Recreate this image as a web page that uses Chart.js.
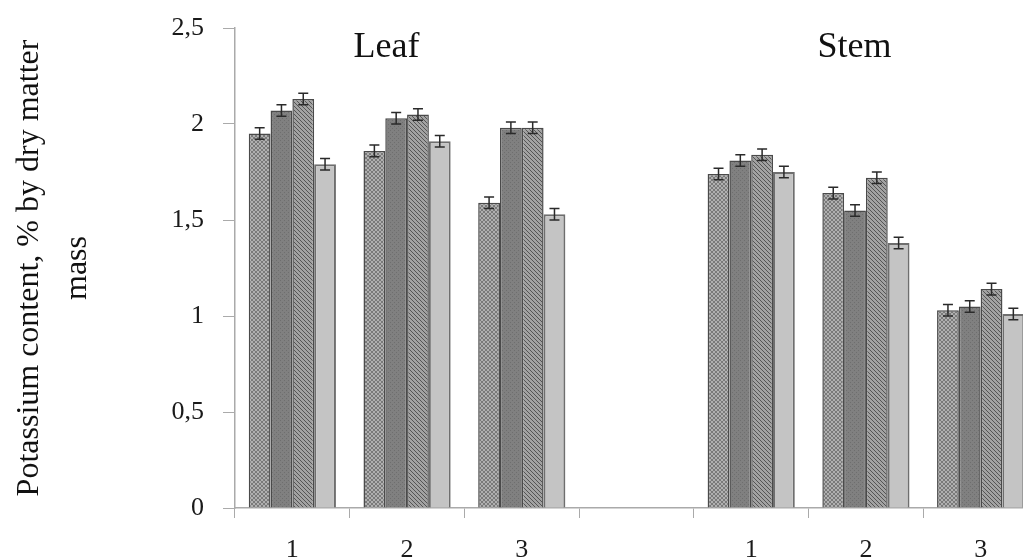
<!DOCTYPE html>
<html>
<head>
<meta charset="utf-8">
<script src="https://cdn.jsdelivr.net/npm/chart.js@4.4.1/dist/chart.umd.min.js"></script>
<style>
  html, body { margin: 0; padding: 0; background: #fff; overflow: hidden; }
  #wrap { width: 1040px; height: 558px; }
</style>
</head>
<body>
<div id="wrap"><canvas id="chartPotassium"></canvas></div>
<script>
/* ===================================
   Potassium content - leaf / stem
   =================================== */

// categories (empty slot separates leaf and stem)
const categories = ['1', '2', '3', '', '1', '2', '3'];
const organs = ['Leaf', 'Stem'];

// series values (% by dry matter mass)
const series1 = [1.95, 1.86, 1.59, null, 1.74, 1.64, 1.03];
const series2 = [2.07, 2.03, 1.98, null, 1.81, 1.55, 1.05];
const series3 = [2.13, 2.05, 1.98, null, 1.84, 1.72, 1.14];
const series4 = [1.79, 1.91, 1.53, null, 1.75, 1.38, 1.01];

// error bars (+/-)
const err1 = [0.03, 0.03, 0.03, null, 0.03, 0.03, 0.03];
const err2 = [0.03, 0.03, 0.03, null, 0.03, 0.03, 0.03];
const err3 = [0.03, 0.03, 0.03, null, 0.03, 0.03, 0.03];
const err4 = [0.03, 0.03, 0.03, null, 0.03, 0.03, 0.03];

// y tick labels
const yTicks = [0, 0.5, 1, 1.5, 2, 2.5];

const serif = '"Liberation Serif", "Times New Roman", serif';

// small tiles for the hatched fills
function makePattern(base, ink, kind) {
  const c = document.createElement('canvas');
  c.width = 4;
  c.height = 4;
  const g = c.getContext('2d');
  g.fillStyle = base;
  g.fillRect(0, 0, 4, 4);
  g.fillStyle = ink;
  for (let i = 0; i < 4; i++) {
    if (kind === 'cross') {
      g.fillRect(i, i, 1, 1);
      g.fillRect(3 - i, i, 1, 1);
    } else if (kind === 'diag') {
      g.fillRect(i, i, 1, 1);
    } else if (kind === 'dots') {
      if (i % 2 === 0) g.fillRect(i, i, 1, 1);
    }
  }
  return g.createPattern(c, 'repeat');
}

// error bars drawn through the scales
const errorBars = {
  id: 'errorBars',
  afterDatasetsDraw(chart) {
    const ctx = chart.ctx;
    const y = chart.scales.y;
    ctx.save();
    ctx.strokeStyle = '#2a2a2a';
    ctx.lineWidth = 1.5;
    chart.data.datasets.forEach((ds, di) => {
      const meta = chart.getDatasetMeta(di);
      meta.data.forEach((bar, i) => {
        const v = ds.data[i];
        const e = ds.errors[i];
        if (v == null || e == null) return;
        const top = y.getPixelForValue(v + e);
        const bot = y.getPixelForValue(v - e);
        ctx.beginPath();
        ctx.moveTo(bar.x, top);
        ctx.lineTo(bar.x, bot);
        ctx.moveTo(bar.x - 5, top);
        ctx.lineTo(bar.x + 5, top);
        ctx.moveTo(bar.x - 5, bot);
        ctx.lineTo(bar.x + 5, bot);
        ctx.stroke();
      });
    });
    ctx.restore();
  }
};

// "Leaf" / "Stem" captions
const organLabels = {
  id: 'organLabels',
  afterDraw(chart) {
    const ctx = chart.ctx;
    const x = chart.scales.x;
    const y = chart.scales.y;
    ctx.save();
    ctx.fillStyle = '#111';
    ctx.font = '36px ' + serif;
    ctx.textAlign = 'center';
    ctx.textBaseline = 'alphabetic';
    ctx.fillText(organs[0], x.getPixelForValue(0.82), y.getPixelForValue(2.35));
    ctx.fillText(organs[1], x.getPixelForValue(4.9), y.getPixelForValue(2.35));
    ctx.restore();
  }
};

const ctx = document.getElementById('chartPotassium').getContext('2d');

new Chart(ctx, {
  type: 'bar',
  data: {
    labels: categories,
    datasets: [
      { data: series1, errors: err1, backgroundColor: makePattern('#b0b0b0', '#7a7a7a', 'cross'), borderColor: '#4a4a4a', borderWidth: 1.5 },
      { data: series2, errors: err2, backgroundColor: makePattern('#808080', '#6e6e6e', 'dots'), borderColor: '#4a4a4a', borderWidth: 1.5 },
      { data: series3, errors: err3, backgroundColor: makePattern('#a2a2a2', '#555555', 'diag'), borderColor: '#4a4a4a', borderWidth: 1.5 },
      { data: series4, errors: err4, backgroundColor: '#c4c4c4', borderColor: '#6e6e6e', borderWidth: 2 }
    ]
  },
  options: {
    responsive: true,
    maintainAspectRatio: false,
    animation: false,
    layout: { padding: { top: 28, right: 2, left: 0, bottom: 0 } },
    datasets: {
      bar: { categoryPercentage: 0.76, barPercentage: 1 }
    },
    plugins: {
      legend: { display: false },
      tooltip: { enabled: false }
    },
    scales: {
      x: {
        grid: { drawOnChartArea: false, tickLength: 10, color: '#aaa' },
        border: { color: '#aaa', width: 1.5 },
        ticks: { color: '#1a1a1a', padding: 17, font: { family: serif, size: 26 } },
        afterFit(scale) { scale.height = 50; }
      },
      y: {
        min: 0,
        max: 2.5,
        afterBuildTicks(scale) { scale.ticks = yTicks.map(v => ({ value: v })); },
        grid: { drawOnChartArea: false, tickLength: 12, color: '#aaa' },
        border: { color: '#aaa', width: 1.5 },
        ticks: {
          color: '#1a1a1a',
          padding: 19,
          font: { family: serif, size: 26 },
          callback: v => String(v).replace('.', ',')
        },
        title: {
          display: true,
          text: ['Potassium content, % by dry matter', 'mass'],
          color: '#111',
          font: { family: serif, size: 32, lineHeight: 1.5 },
          padding: { top: 6, bottom: 0 }
        },
        afterFit(scale) {
          scale.width = 235;
          scale.paddingTop = 0;
          scale.paddingBottom = 0;
        }
      }
    }
  },
  plugins: [errorBars, organLabels]
});
</script>
</body>
</html>
